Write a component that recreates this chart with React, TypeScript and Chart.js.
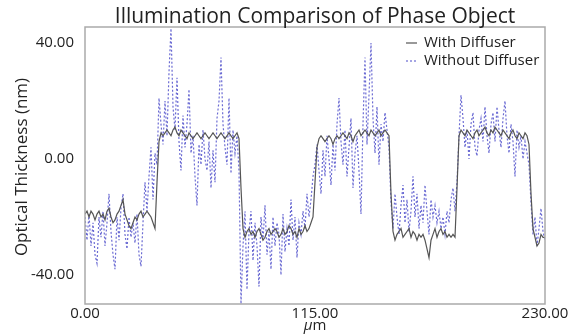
import React, { useEffect, useRef } from "react";
import { Chart, registerables } from "chart.js";

Chart.register(...registerables);

const chartTitle = "Illumination Comparison of Phase Object";
const yAxisTitle = "Optical Thickness (nm)";
const xAxisUnit = "m";
const seriesNames = ["With Diffuser", "Without Diffuser"];
const xTickValues = [0, 115, 230];
const yTickValues = [-40, 0, 40];
const xStepUm = 1;

const withDiffuser = [
  -19, -18, -20, -18, -19, -21, -19, -18, -20, -19, -21, -18, -17, -20, -22, -21, -19, -18, -16, -14,
  -19, -21, -23, -24, -22, -20, -21, -19, -18, -20, -19, -18, -19, -20, -22, -24,
  -8, 6, 9, 8, 9, 10, 9, 8, 10, 11, 9, 8, 10, 9, 8, 7, 9, 8, 7, 8, 9, 8, 7, 8, 9, 8, 7, 8, 9, 8, 7, 8, 9, 8, 7, 8, 9, 8, 7, 8, 9, 7,
  -10, -24, -27, -25, -24, -26, -25, -27, -25, -24, -26, -28, -27, -25, -24, -26, -25, -24, -25, -27,
  -26, -24, -26, -25, -23, -24, -26, -25, -27, -24, -26, -25, -23, -25, -24, -22, -20,
  -8, 4, 7, 8, 7, 6, 7, 8, 7, 5, 7, 8, 7, 8, 9, 8, 7, 9, 8, 6, 8, 9, 10, 8, 9, 10, 9, 8, 10, 9, 8, 9, 10, 8, 9, 10, 9, 8,
  -12, -25, -28, -26, -25, -24, -27, -26, -25, -24, -27, -25, -26, -28, -26, -27, -26, -28, -31, -34,
  -28, -26, -24, -27, -25, -24, -26, -25, -27, -26, -27, -26, -27,
  -10, 8, 10, 9, 8, 10, 9, 8, 7, 9, 10, 8, 9, 10, 11, 9, 8, 10, 9, 11, 10, 9, 8, 10, 9, 8, 7, 9, 10, 8, 7, 9, 8, 7, 9, 8, 5,
  -12, -24, -27, -30, -29, -26, -27, -27,
];

const withoutDiffuser = [
  -20, -28, -19, -30, -22, -33, -36, -20, -27, -18, -30, -22, -12, -25, -33, -38, -20, -28, -17, -12,
  -26, -31, -20, -27, -22, -29, -19, -33, -37, -22, -8, -18, -6, 4, -14, 2,
  -2, 21, 12, 5, 20, 8, 30, 45, 18, 10, 28, 6, -4, 15, 4, 12, 24, 2, 8, -6, -16, 5, -2, 10, 0, -4, 6, -10, 3, -8, 14, 20, 35, 12, 4, -2, 21, -5, 10, 2, 8, -4,
  -50, -30, -18, -45, -25, -18, -35, -22, -30, -44, -20, -28, -16, -33, -25, -38, -20, -30, -22, -26,
  -40, -19, -32, -24, -30, -14, -28, -20, -34, -22, -26, -18, -24, -12, -20, -14, -6,
  -2, 5, -4, -12, 3, -6, 8, 0, -9, 5, -4, 12, 21, 6, -2, 10, -6, 4, 14, -10, 2, 8, -4, -19, 12, 35, 5, 22, 40, 14, 2, 18, -2, 12, 6, 16, 10, 4,
  -15, -24, -12, -20, -26, -16, -9, -22, -14, -25, -18, -6, -20, -12, -24, -16, -22, -9, -18, -26,
  -14, -20, -16, -22, -18, -24, -20, -26, -18, -22, -14, -10, -18,
  -8, 8, 22, 14, 4, 10, 0, 12, 16, 4, 1, 10, 14, 6, 18, 8, 2, 12, 16, 6, 18, 10, 4, 14, 20, 8, 2, 12, 6, -6, 10, 4, 8, 0, 6, 2, -2,
  -15, -26, -20, -30, -24, -17, -25, -28,
];

const FONT = "'Open Sans', 'DejaVu Sans', sans-serif";

export default function App() {
  const canvasRef = useRef<HTMLCanvasElement | null>(null);

  useEffect(() => {
    document.body.style.margin = "0";
    const canvas = canvasRef.current;
    if (!canvas) return;

    const toPoints = (arr: number[]) => arr.map((y, i) => ({ x: i * xStepUm, y }));

    const decorPlugin = {
      id: "decor",
      afterDatasetsDraw(chart: any) {
        const { ctx, chartArea } = chart;
        const { left, right, top, bottom } = chartArea;
        ctx.save();
        // frame
        ctx.strokeStyle = "#aaaaaa";
        ctx.lineWidth = 1.5;
        ctx.strokeRect(left, top, right - left, bottom - top);

        ctx.fillStyle = "#222222";
        // title
        ctx.font = `21px ${FONT}`;
        ctx.textAlign = "center";
        ctx.textBaseline = "middle";
        ctx.fillText(chartTitle, (left + right) / 2, 17);

        // y axis title
        ctx.save();
        ctx.translate(22, 167);
        ctx.rotate(-Math.PI / 2);
        ctx.font = `17px ${FONT}`;
        ctx.fillText(yAxisTitle, 0, 0);
        ctx.restore();

        // x axis title (mu italic + m)
        ctx.font = `italic 15px ${FONT}`;
        const muW = ctx.measureText("\u03bc").width;
        ctx.font = `15px ${FONT}`;
        const mW = ctx.measureText(xAxisUnit).width;
        const startX = (left + right) / 2 - (muW + mW) / 2;
        ctx.textAlign = "left";
        ctx.font = `italic 15px ${FONT}`;
        ctx.fillText("\u03bc", startX, 326);
        ctx.font = `15px ${FONT}`;
        ctx.fillText(xAxisUnit, startX + muW, 326);

        // legend
        const ds = chart.data.datasets;
        const rows = [43, 61];
        ds.forEach((d: any, i: number) => {
          const y = rows[i];
          ctx.save();
          ctx.strokeStyle = d.borderColor;
          ctx.lineWidth = 1.2;
          ctx.setLineDash(d.borderDash || []);
          ctx.beginPath();
          ctx.moveTo(406, y);
          ctx.lineTo(417, y);
          ctx.stroke();
          ctx.restore();
          ctx.fillStyle = "#222222";
          ctx.font = `15px ${FONT}`;
          ctx.textAlign = "left";
          ctx.textBaseline = "middle";
          ctx.fillText(d.label, 424, y);
        });
        ctx.restore();
      },
    };

    const chart = new Chart(canvas, {
      type: "line",
      data: {
        datasets: [
          {
            label: seriesNames[0],
            data: toPoints(withDiffuser),
            borderColor: "#555555",
            borderWidth: 1.2,
            pointRadius: 0,
            tension: 0,
          },
          {
            label: seriesNames[1],
            data: toPoints(withoutDiffuser),
            borderColor: "rgba(70,70,200,0.8)",
            borderWidth: 1.2,
            borderDash: [2, 2],
            pointRadius: 0,
            tension: 0,
          },
        ],
      },
      options: {
        responsive: false,
        animation: false,
        layout: { padding: { left: 0, right: 28, top: 27, bottom: 0 } },
        plugins: {
          legend: { display: false },
          title: { display: false },
          tooltip: { enabled: false },
        },
        scales: {
          x: {
            type: "linear",
            min: 0,
            max: 230,
            grid: { display: false },
            border: { display: false },
            afterFit: (s: any) => {
              s.height = 30;
            },
            afterBuildTicks: (s: any) => {
              s.ticks = xTickValues.map((v) => ({ value: v }));
            },
            ticks: {
              padding: -7,
              color: "#222222",
              font: { family: FONT, size: 15 },
              maxRotation: 0,
              callback: (v: any) => Number(v).toFixed(2),
            },
          },
          y: {
            type: "linear",
            min: -50,
            max: 45.5,
            grid: { display: false },
            border: { display: false },
            afterFit: (s: any) => {
              s.width = 85;
            },
            afterBuildTicks: (s: any) => {
              s.ticks = yTickValues.map((v) => ({ value: v }));
            },
            ticks: {
              padding: 3,
              color: "#222222",
              font: { family: FONT, size: 15 },
              callback: (v: any) => Number(v).toFixed(2),
            },
          },
        },
      },
      plugins: [decorPlugin],
    });

    return () => chart.destroy();
  }, []);

  return (
    <div style={{ width: 573, height: 334 }}>
      <canvas ref={canvasRef} width={573} height={334} />
    </div>
  );
}
